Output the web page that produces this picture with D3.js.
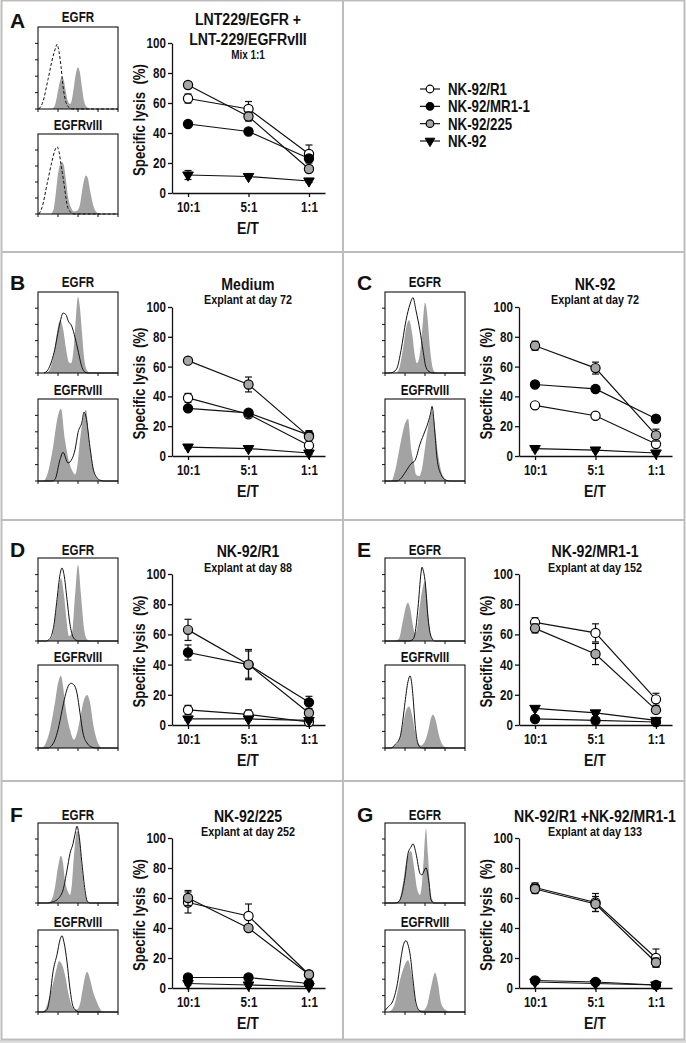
<!DOCTYPE html>
<html><head><meta charset="utf-8">
<script src="https://cdn.jsdelivr.net/npm/d3@7"></script>
<style>
body{margin:0;background:#fff}
svg{display:block}
text{font-family:"Liberation Sans Narrow","Liberation Sans",Arial,sans-serif;font-weight:bold;fill:#111}
</style>
</head><body>
<svg id="c" width="686" height="1043"></svg>
<script>
// ---------- DATA ----------
const ratios = ["10:1","5:1","1:1"];
const seriesNames = ["NK-92/R1","NK-92/MR1-1","NK-92/225","NK-92"];
const panelLetters = ["A","B","C","D","E","F","G"];
const panelTitles = [["LNT229/EGFR +","LNT-229/EGFRvIII"],["Medium"],["NK-92"],["NK-92/R1"],["NK-92/MR1-1"],["NK-92/225"],["NK-92/R1 +NK-92/MR1-1"]];
const panelSubtitles = ["Mix 1:1","Explant at day 72","Explant at day 72","Explant at day 88","Explant at day 152","Explant at day 252","Explant at day 133"];
const histLabels = ["EGFR","EGFRvIII"];
const yTicks = [0,20,40,60,80,100];

// specific lysis (%) per series [R1, MR1-1, 225, NK-92] at 10:1, 5:1, 1:1
const lysisA = [[63,56,26],[46,41,23],[72,51,16],[12,11,8]];
const errA   = [[3,5,6],[1,1,2],[2,3,2],[3,1,1]];
const lysisB = [[39,28,7],[32,29,14],[64,48,13],[6,5,2]];
const errB   = [[3,1,2],[1,1,3],[1,5,3],[1,1,1]];
const lysisC = [[34,27,8],[48,45,25],[74,59,14],[5,4,2]];
const errC   = [[1,1,1],[1,1,1],[3,4,4],[1,1,1]];
const lysisD = [[10,7,2],[48,40,15],[63,40,8],[4,4,3]];
const errD   = [[3,3,1],[5,9,4],[7,10,2],[1,1,1]];
const lysisE = [[68,61,17],[4,3,2],[64,47,10],[11,8,3]];
const errE   = [[3,6,4],[1,1,1],[3,7,2],[1,1,1]];
const lysisF = [[57,48,9],[7,7,3],[60,40,9],[3,2,1]];
const errF   = [[7,8,1],[1,1,1],[5,2,1],[1,1,1]];
const lysisG = [[67,57,20],[5,4,2],[66,56,17],[4,3,2]];
const errG   = [[3,6,6],[2,1,1],[3,5,3],[1,1,1]];

// flow histograms: [channel (0-80), % of max]
const hA1Fill = [[14,0],[17,5],[20,22],[22,34],[24,39],[26,34],[28,20],[30,9],[32,6],[34,12],[36,28],[38,44],[40,51],[42,44],[44,26],[46,10],[49,2],[53,0]];
const hA1Line = [[1,0],[5,9],[10,36],[15,64],[18,76],[19,79],[21,70],[23,52],[25,28],[28,8],[31,2],[35,0],[80,0]];
const hA2Fill = [[13,0],[16,8],[18,28],[20,50],[22,62],[24,65],[26,60],[28,42],[30,22],[33,8],[36,3],[39,4],[42,12],[44,28],[46,42],[48,48],[50,44],[52,30],[55,12],[58,3],[62,0]];
const hA2Line = [[1,0],[4,8],[9,37],[14,66],[17,80],[19,84],[21,78],[23,62],[26,38],[29,12],[32,3],[36,0],[80,0]];
const hB1Fill = [[8,0],[12,5],[16,25],[19,50],[22,65],[25,55],[28,30],[31,13],[33,12],[36,35],[38,70],[40,94],[42,80],[44,50],[46,20],[49,3],[52,0]];
const hB1Line = [[6,0],[10,4],[16,25],[22,62],[25,74],[28,72],[30,65],[34,57],[37,44],[40,28],[44,7],[47,1],[50,0],[80,0]];
const hB2Fill = [[6,0],[9,7],[15,41],[20,80],[23,88],[27,50],[30,29],[34,13],[37,8],[40,25],[42,50],[45,75],[48,87],[51,50],[55,17],[60,2],[63,0]];
const hB2Line = [[0,0],[14,0],[17,2],[22,26],[25,35],[30,22],[34,27],[37,38],[40,59],[44,72],[46,84],[48,78],[52,41],[55,16],[59,4],[62,1],[66,0],[80,0]];
const hC1Fill = [[11,0],[14,5],[18,30],[21,55],[24,65],[27,50],[30,20],[32,12],[35,25],[38,65],[40,87],[42,75],[45,30],[48,5],[51,0]];
const hC1Line = [[0,0],[4,0],[8,1],[12,6],[16,28],[21,65],[25,85],[28,93],[31,77],[35,52],[38,28],[41,7],[45,1],[48,0],[80,0]];
const hC2Fill = [[7,0],[10,12],[16,49],[20,70],[23,76],[26,40],[29,21],[31,8],[34,6],[37,15],[41,49],[44,72],[47,85],[49,75],[53,33],[58,6],[63,0]];
const hC2Line = [[0,0],[12,0],[15,2],[21,12],[26,21],[30,25],[35,45],[40,61],[43,71],[46,85],[47,91],[50,57],[52,28],[56,8],[61,1],[65,0],[80,0]];
const hD1Fill = [[10,0],[14,5],[18,35],[21,65],[23,76],[26,55],[29,20],[31,6],[34,10],[37,55],[40,92],[43,55],[46,15],[49,2],[52,0]];
const hD1Line = [[0,0],[8,0],[12,3],[16,20],[19,50],[22,80],[24,88],[26,80],[29,50],[32,20],[35,5],[38,1],[41,0],[80,0]];
const hD2Fill = [[4,0],[7,4],[12,22],[17,55],[20,78],[23,87],[25,75],[27,54],[32,22],[36,10],[39,18],[42,35],[46,58],[49,64],[52,55],[55,30],[60,6],[64,0]];
const hD2Line = [[0,0],[10,0],[13,2],[17,10],[20,22],[24,45],[27,62],[30,74],[33,78],[36,76],[39,66],[42,42],[45,18],[49,6],[54,1],[58,0],[80,0]];
const hE1Fill = [[10,0],[14,3],[18,25],[21,42],[23,46],[25,40],[28,18],[30,9],[32,15],[34,35],[37,60],[40,72],[42,55],[44,22],[47,4],[50,0]];
const hE1Line = [[0,0],[24,0],[28,2],[30,9],[33,40],[36,82],[37,89],[38,86],[40,73],[43,28],[45,10],[47,3],[50,0],[80,0]];
const hE2Fill = [[6,0],[10,3],[15,12],[19,35],[22,48],[24,50],[27,40],[30,20],[33,6],[36,3],[40,8],[44,25],[46,36],[48,40],[51,32],[54,15],[58,3],[62,0]];
const hE2Line = [[0,0],[6,0],[10,4],[15,13],[18,35],[20,55],[23,80],[25,87],[27,75],[28,62],[30,30],[32,10],[35,1],[38,0],[80,0]];
const hF1Fill = [[10,0],[14,5],[17,20],[20,45],[23,59],[25,50],[27,28],[30,14],[32,10],[34,25],[36,60],[39,90],[41,85],[44,44],[47,12],[50,2],[53,0]];
const hF1Line = [[0,0],[10,0],[14,1],[19,4],[22,8],[25,16],[29,41],[32,62],[35,74],[37,86],[39,96],[41,85],[44,49],[47,16],[49,3],[52,0],[80,0]];
const hF2Fill = [[4,0],[8,5],[12,20],[16,40],[19,55],[21,62],[24,58],[27,45],[30,25],[33,10],[36,4],[39,3],[42,10],[45,30],[49,49],[52,40],[55,25],[59,12],[64,1],[67,0]];
const hF2Line = [[0,0],[5,0],[9,3],[12,20],[15,49],[19,70],[22,88],[24,93],[26,85],[29,61],[32,28],[35,7],[39,1],[42,0],[80,0]];
const hG1Fill = [[10,0],[14,3],[18,25],[21,50],[24,63],[26,65],[29,45],[32,18],[35,10],[37,25],[39,60],[41,93],[43,60],[45,20],[47,5],[50,0]];
const hG1Line = [[0,0],[10,0],[13,1],[16,7],[20,32],[23,62],[26,70],[28,74],[31,62],[35,37],[37,35],[39,40],[41,44],[44,25],[46,4],[49,0],[80,0]];
const hG2Fill = [[3,0],[7,3],[10,11],[15,39],[19,55],[23,63],[26,50],[28,35],[31,8],[34,3],[38,2],[42,8],[46,30],[50,48],[53,35],[56,11],[61,2],[64,0]];
const hG2Line = [[0,2],[3,6],[8,14],[13,39],[16,66],[19,84],[21,87],[23,82],[25,71],[28,39],[31,11],[35,1],[38,0],[80,0]];

// ---------- LAYOUT ----------
const svg = d3.select("#c");
const W = 686, H = 1043;
const cols = [0, 347];
const rows = [
  {y100:43,  y0:193, b1:[27,109],  b2:[134,214], lab1:22,  lab2:130, letter:28,  t1:25,  t2:45, sub:59},
  {y100:307, y0:456, b1:[292,373], b2:[399,481], lab1:287, lab2:395, letter:290, t1:290, sub:304},
  {y100:574, y0:725, b1:[558,641], b2:[665,748], lab1:555, lab2:662, letter:557, t1:557, sub:572},
  {y100:838, y0:988, b1:[823,903], b2:[930,1012],lab1:820, lab2:927, letter:822, t1:822, sub:836}
];
const panels = [
  {r:0,c:0,lysis:lysisA,err:errA,h:[hA1Fill,hA1Line,hA2Fill,hA2Line],dash:true},
  {r:1,c:0,lysis:lysisB,err:errB,h:[hB1Fill,hB1Line,hB2Fill,hB2Line]},
  {r:1,c:1,lysis:lysisC,err:errC,h:[hC1Fill,hC1Line,hC2Fill,hC2Line]},
  {r:2,c:0,lysis:lysisD,err:errD,h:[hD1Fill,hD1Line,hD2Fill,hD2Line]},
  {r:2,c:1,lysis:lysisE,err:errE,h:[hE1Fill,hE1Line,hE2Fill,hE2Line]},
  {r:3,c:0,lysis:lysisF,err:errF,h:[hF1Fill,hF1Line,hF2Fill,hF2Line]},
  {r:3,c:1,lysis:lysisG,err:errG,h:[hG1Fill,hG1Line,hG2Fill,hG2Line]}
];
const markerFill = ["#ffffff","#000000","#a6a6a6","#000000"];
const histGray = "#a3a3a3";

// check for a narrow font; otherwise condense glyphs with a horizontal scale
const p1 = svg.append("text").style("font-family","'Liberation Sans Narrow','Liberation Sans'").style("font-size","20px").text("Specific lysis");
const p2 = svg.append("text").style("font-family","'Liberation Sans'").style("font-size","20px").text("Specific lysis");
const hasNarrow = p1.node().getComputedTextLength() < 0.95*p2.node().getComputedTextLength();
p1.remove(); p2.remove();
const SX = hasNarrow ? 1 : 0.83;
function ntext(parent, x, y, str, size, anchor) {
  return parent.append("text")
    .attr("transform", `translate(${x},${y}) scale(${SX},1)`)
    .attr("text-anchor", anchor || "start").style("font-size", size + "px").text(str);
}

// frame / grid
svg.append("rect").attr("x",0).attr("y",1040).attr("width",W).attr("height",3).attr("fill","#dcdcdc");
svg.append("rect").attr("x",1.5).attr("y",0.5).attr("width",W-3).attr("height",1039)
  .attr("fill","none").attr("stroke","#bdbdbd").attr("stroke-width",2);
[252,520,781].forEach(y=>svg.append("line").attr("x1",1).attr("x2",W-1).attr("y1",y).attr("y2",y)
  .attr("stroke","#bdbdbd").attr("stroke-width",2));
svg.append("line").attr("x1",343).attr("x2",343).attr("y1",0).attr("y2",1040)
  .attr("stroke","#bdbdbd").attr("stroke-width",2);

function drawMarker(g, type, cx, cy, r) {
  if (type === 3) {
    g.append("path").attr("d", d3.symbol().type(d3.symbolTriangle).size(r*r*2.3)())
      .attr("transform",`translate(${cx},${cy}) rotate(180)`)
      .attr("fill","#000").attr("stroke","#000").attr("stroke-width",1);
  } else {
    g.append("circle").attr("cx",cx).attr("cy",cy).attr("r",r)
      .attr("fill",markerFill[type]).attr("stroke","#000").attr("stroke-width",1.2);
  }
}

function drawHist(ox, top, bottom, fillData, lineData, dashed) {
  const x0 = ox+38, x1 = ox+118;
  const hx = d3.scaleLinear().domain([0,80]).range([x0,x1]);
  const hy = d3.scaleLinear().domain([0,100]).range([bottom,top]);
  const g = svg.append("g");
  const area = d3.area().x(d=>hx(d[0])).y0(hy(0)).y1(d=>hy(d[1])).curve(d3.curveMonotoneX);
  const line = d3.line().x(d=>hx(d[0])).y(d=>hy(d[1])).curve(d3.curveMonotoneX);
  g.append("path").datum(fillData).attr("d",area).attr("fill",histGray);
  g.append("path").datum(lineData).attr("d",line).attr("fill","none").attr("stroke","#111")
    .attr("stroke-width",1).attr("stroke-dasharray",dashed?"3,2":null);
  g.append("rect").attr("x",x0).attr("y",top).attr("width",x1-x0).attr("height",bottom-top)
    .attr("fill","none").attr("stroke","#111").attr("stroke-width",1.1);
  const ly = d3.scaleLinear().domain([0,5]).range([bottom,top]);
  d3.range(0,5).forEach(i=>g.append("line").attr("x1",x0-3).attr("x2",x0).attr("y1",ly(i)).attr("y2",ly(i)).attr("stroke","#111"));
  const lx = d3.scaleLinear().domain([0,4]).range([x0,x1]);
  d3.range(0,5).forEach(i=>g.append("line").attr("x1",lx(i)).attr("x2",lx(i)).attr("y1",bottom).attr("y2",bottom+3).attr("stroke","#111"));
}

panels.forEach((p,pi)=>{
  const R = rows[p.r], ox = cols[p.c];
  const ax = ox + 172;
  svg.append("text").attr("x",ox+10).attr("y",R.letter).text(panelLetters[pi])
    .style("font-family","'Liberation Sans',Arial,sans-serif").style("font-size","21px");
  ntext(svg, ox+78, R.lab1, histLabels[0], 14, "middle");
  ntext(svg, ox+78, R.lab2, histLabels[1], 14, "middle");
  drawHist(ox, R.b1[0], R.b1[1], p.h[0], p.h[1], p.dash);
  drawHist(ox, R.b2[0], R.b2[1], p.h[2], p.h[3], p.dash);
  const tx = ax + 76;
  panelTitles[pi].forEach((t,i)=> ntext(svg, tx, i===0?R.t1:R.t2, t, 17, "middle"));
  ntext(svg, tx, R.sub, panelSubtitles[pi], pi===0?12:13, "middle");
  const x = d3.scalePoint().domain(ratios).range([ax, ax+153]).padding(0.265);
  const y = d3.scaleLinear().domain([0,100]).range([R.y0, R.y100]);
  const gy = svg.append("g").attr("transform",`translate(${ax},0)`)
    .call(d3.axisLeft(y).tickValues(yTicks).tickSize(4).tickSizeOuter(0).tickPadding(2));
  const gx = svg.append("g").attr("transform",`translate(0,${R.y0})`)
    .call(d3.axisBottom(x).tickSize(4).tickSizeOuter(0).tickPadding(5));
  [gy,gx].forEach(g=>{
    g.selectAll("path,line").attr("stroke","#111").attr("stroke-width",1.3);
    g.attr("font-family",null).attr("font-size",null);
    g.selectAll("text").style("font-size","14px").attr("fill","#111").each(function(){
      const t = d3.select(this);
      const tx0 = +t.attr("x") || 0, ty0 = +t.attr("y") || 0;
      t.attr("transform", `translate(${tx0},${ty0}) scale(${SX},1) translate(${-tx0},${-ty0})`);
    });
  });
  ntext(svg, ax+76, R.y0+41, "E/T", 17, "middle");
  svg.append("text").attr("transform",`translate(${ox+145},${(R.y0+R.y100)/2+2}) rotate(-90) scale(${SX},1)`)
    .attr("text-anchor","middle").style("font-size","16px").text("Specific lysis\u00a0\u00a0(%)");
  const lineGen = d3.line().x((d,i)=>x(ratios[i])).y(d=>y(d));
  p.lysis.forEach((vals,si)=>{
    const g = svg.append("g");
    vals.forEach((v,i)=>{
      const e = p.err[si][i], cx = x(ratios[i]);
      g.append("line").attr("x1",cx).attr("x2",cx).attr("y1",y(v-e)).attr("y2",y(v+e)).attr("stroke","#111").attr("stroke-width",1.2);
      [v-e,v+e].forEach(w=>g.append("line").attr("x1",cx-3.5).attr("x2",cx+3.5).attr("y1",y(w)).attr("y2",y(w)).attr("stroke","#111").attr("stroke-width",1.2));
    });
    g.append("path").datum(vals).attr("d",lineGen).attr("fill","none").attr("stroke","#111").attr("stroke-width",1.2);
    vals.forEach((v,i)=>drawMarker(g, si, x(ratios[i]), y(v), 4.6));
  });
});

// legend
const legY = d3.scalePoint().domain(seriesNames).range([89,141]);
seriesNames.forEach((n,si)=>{
  const cy = legY(n);
  svg.append("line").attr("x1",420).attr("x2",440).attr("y1",cy).attr("y2",cy).attr("stroke","#111").attr("stroke-width",1.2);
  drawMarker(svg, si, 430, cy, si===3?4.2:3.8);
  ntext(svg, 448, cy+6, n, 16, "start");
});
</script>
</body></html>
